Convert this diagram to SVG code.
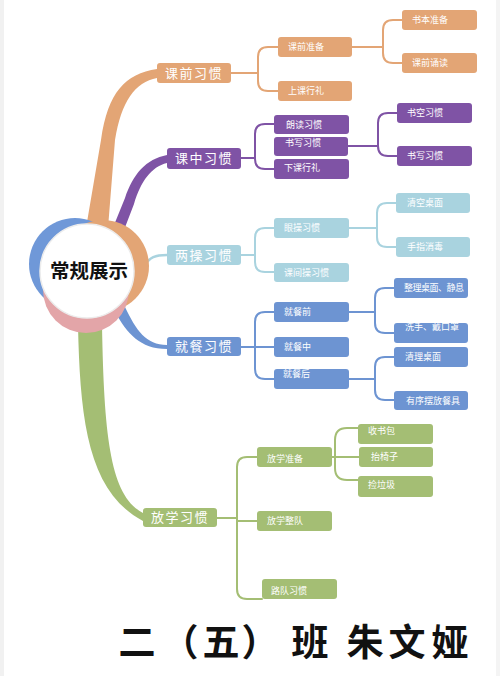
<svg xmlns="http://www.w3.org/2000/svg" width="500" height="676" viewBox="0 0 500 676">
<style>
.lbl{font-family:"Noto Sans CJK SC","Noto Sans",sans-serif;fill:#fff;}
.main{font-size:13px;text-anchor:middle;letter-spacing:1.5px;}
.sub{font-size:9px;}
.ln{fill:none;stroke-width:2;stroke-linecap:round;}
.or{fill:#E3A575;} .pu{fill:#7F53A5;} .lb{fill:#A9D3DF;} .bl{fill:#6D94D2;} .gr{fill:#A4BE74;}
</style>
<rect width="500" height="676" fill="#fff"/>
<rect x="0" y="0" width="4" height="676" fill="#f1f1f1"/>
<rect x="496" y="0" width="4" height="676" fill="#f4f4f4"/>

<g id="connectors">
  <path class="or" d="M157 69 C125 74 108 92 101 140 L86 228 L108 228 L115 140 C121 102 135 82 157 78 Z"/>
  <path class="pu" d="M167 155 C146 159 133 174 125 198 L112 230 L124 230 L134 204 C141 181 151 167 167 163 Z"/>
  <path d="M144 266 C150 257 155 255 167 255" fill="none" stroke="#A9D3DF" stroke-width="2.5"/>
  <path class="bl" d="M115 312 C127 333 140 349 167 349 L167 345 C146 345 136 330 125 307 Z"/>
  <path class="gr" d="M78 325 C80 420 88 492 143 521 L143 513 C111 496 104 440 102 325 Z"/>
  <g stroke="#E3A575" class="ln">
    <path d="M231 73 H258 M278 47 H268 Q258 47 258 57 V81 Q258 91 268 91 H278"/>
    <path d="M352 47 H383 M402 20 H393 Q383 20 383 30 V53 Q383 63 393 63 H402"/>
  </g>
  <g stroke="#7F53A5" class="ln">
    <path d="M241 158 H255 M274 124 H265 Q255 124 255 134 V159 Q255 169 265 169 H274"/>
    <path d="M348 146 H378 M397 113 H388 Q378 113 378 123 V146 Q378 156 388 156 H397"/>
  </g>
  <g stroke="#A9D3DF" class="ln">
    <path d="M241 255 H255 M274 228 H265 Q255 228 255 238 V262 Q255 272 265 272 H274"/>
    <path d="M349 228 H377 M396 203 H387 Q377 203 377 213 V237 Q377 247 387 247 H396"/>
  </g>
  <g stroke="#6D94D2" class="ln">
    <path d="M241 347 H274 M274 312 H265 Q255 312 255 322 V369 Q255 379 265 379 H274"/>
    <path d="M349 312 H375 M394 288 H385 Q375 288 375 298 V323 Q375 333 385 333 H394"/>
    <path d="M349 379 H375 M394 357 H385 Q375 357 375 367 V390 Q375 400 385 400 H394"/>
  </g>
  <g stroke="#A4BE74" class="ln">
    <path d="M217 518 H237 M257 457 H247 Q237 457 237 467 V589 Q237 599 247 599 H262 M237 521 H257"/>
    <path d="M332 457 H359 M358 428 H347 Q335 428 335 440 V468 Q335 480 347 480 H358"/>
  </g>
</g>

<g id="center">
  <circle cx="75" cy="264" r="46" fill="#6F98D8"/>
  <circle cx="103" cy="266" r="46" fill="#E3A575"/>
  <circle cx="86" cy="290" r="43" fill="#E3A5A8"/>
  <circle cx="87" cy="271" r="47" fill="#fff" stroke="#ececec" stroke-width="1.5"/>
  <text x="89" y="278" text-anchor="middle" font-family="'Noto Sans CJK SC',sans-serif" font-weight="bold" font-size="19.5" fill="#111">常规展示</text>
</g>

<g id="n-kq"><rect x="157" y="63" width="74" height="20" rx="3" class="or"/><text x="194" y="78" class="lbl main">课前习惯</text></g>
<g id="n-kqzb"><rect x="278" y="37" width="74" height="20" rx="3" class="or"/><text x="288" y="50" class="lbl sub">课前准备</text></g>
<g id="n-sbzb"><rect x="402" y="10" width="75" height="20" rx="3" class="or"/><text x="412" y="23" class="lbl sub">书本准备</text></g>
<g id="n-kqsd"><rect x="402" y="53" width="75" height="20" rx="3" class="or"/><text x="412" y="66" class="lbl sub">课前诵读</text></g>
<g id="n-skxl"><rect x="278" y="81" width="74" height="20" rx="3" class="or"/><text x="288" y="94" class="lbl sub">上课行礼</text></g>

<g id="n-kz"><rect x="167" y="148" width="74" height="21" rx="3" class="pu"/><text x="204" y="163" class="lbl main">课中习惯</text></g>
<g id="n-ldxg"><rect x="274" y="115" width="75" height="19" rx="3" class="pu"/><text x="286" y="128" class="lbl sub">朗读习惯</text></g>
<g id="n-sxxg1"><rect x="274" y="137" width="74" height="19" rx="3" class="pu"/><text x="285" y="146" class="lbl sub">书写习惯</text></g>
<g id="n-xkxl"><rect x="274" y="159" width="75" height="20" rx="3" class="pu"/><text x="284" y="171" class="lbl sub">下课行礼</text></g>
<g id="n-skxg"><rect x="397" y="103" width="75" height="20" rx="3" class="pu"/><text x="407" y="116" class="lbl sub">书空习惯</text></g>
<g id="n-sxxg2"><rect x="397" y="146" width="75" height="20" rx="3" class="pu"/><text x="407" y="159" class="lbl sub">书写习惯</text></g>

<g id="n-lc"><rect x="167" y="245" width="74" height="20" rx="3" class="lb"/><text x="204" y="260" class="lbl main">两操习惯</text></g>
<g id="n-yc"><rect x="274" y="218" width="75" height="20" rx="3" class="lb"/><text x="284" y="231" class="lbl sub">眼操习惯</text></g>
<g id="n-kjc"><rect x="274" y="263" width="75" height="19" rx="3" class="lb"/><text x="284" y="276" class="lbl sub">课间操习惯</text></g>
<g id="n-qkzm"><rect x="396" y="193" width="74" height="20" rx="3" class="lb"/><text x="407" y="206" class="lbl sub">清空桌面</text></g>
<g id="n-szxd"><rect x="396" y="237" width="74" height="20" rx="3" class="lb"/><text x="407" y="250" class="lbl sub">手指消毒</text></g>

<g id="n-jc"><rect x="167" y="337" width="74" height="19" rx="3" class="bl"/><text x="204" y="351" class="lbl main">就餐习惯</text></g>
<g id="n-jcq"><rect x="274" y="302" width="75" height="20" rx="3" class="bl"/><text x="284" y="315" class="lbl sub">就餐前</text></g>
<g id="n-jcz"><rect x="274" y="337" width="75" height="20" rx="3" class="bl"/><text x="284" y="350" class="lbl sub">就餐中</text></g>
<g id="n-jch"><rect x="274" y="369" width="75" height="20" rx="3" class="bl"/><text x="283" y="377" class="lbl sub">就餐后</text></g>
<g id="n-zlzm"><rect x="394" y="278" width="74" height="20" rx="3" class="bl"/><text x="404" y="291" class="lbl sub" font-size="8.5" textLength="60">整理桌面、静息</text></g>
<g id="n-xs"><rect x="394" y="323" width="74" height="20" rx="3" class="bl"/><text x="405" y="330" class="lbl sub">洗手、戴口罩</text></g>
<g id="n-qlzm"><rect x="394" y="347" width="74" height="20" rx="3" class="bl"/><text x="405" y="360" class="lbl sub">清理桌面</text></g>
<g id="n-yxbf"><rect x="394" y="391" width="74" height="19" rx="3" class="bl"/><text x="406" y="404" class="lbl sub">有序摆放餐具</text></g>

<g id="n-fx"><rect x="143" y="508" width="74" height="19" rx="3" class="gr"/><text x="180" y="522" class="lbl main">放学习惯</text></g>
<g id="n-fxzb"><rect x="257" y="447" width="75" height="20" rx="3" class="gr"/><text x="267" y="462" class="lbl sub">放学准备</text></g>
<g id="n-fxzd"><rect x="257" y="511" width="75" height="20" rx="3" class="gr"/><text x="267" y="524" class="lbl sub">放学整队</text></g>
<g id="n-ldxg2"><rect x="262" y="579" width="75" height="20" rx="3" class="gr"/><text x="271" y="594" class="lbl sub">路队习惯</text></g>
<g id="n-ssb"><rect x="358" y="424" width="75" height="20" rx="3" class="gr"/><text x="368" y="434" class="lbl sub">收书包</text></g>
<g id="n-tyz"><rect x="359" y="447" width="74" height="20" rx="3" class="gr"/><text x="371" y="460" class="lbl sub">抬椅子</text></g>
<g id="n-jlj"><rect x="358" y="476" width="75" height="21" rx="3" class="gr"/><text x="368" y="488" class="lbl sub">捡垃圾</text></g>

<g id="title" font-family="'Noto Sans CJK SC',sans-serif" font-weight="bold" font-size="37" fill="#111" text-anchor="middle">
  <text x="137" y="656">二</text>
  <text x="180" y="656">（</text>
  <text x="221" y="656">五</text>
  <text x="260" y="656">）</text>
  <text x="310" y="656">班</text>
  <text x="365" y="656">朱</text>
  <text x="407" y="656">文</text>
  <text x="450" y="656">娅</text>
</g>
</svg>
